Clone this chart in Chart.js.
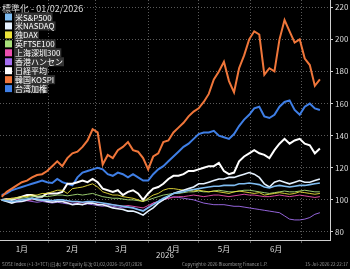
<!DOCTYPE html>
<html>
<head>
<meta charset="utf-8">
<script src="https://cdn.jsdelivr.net/npm/chart.js@4.4.1/dist/chart.umd.min.js"></script>
<style>
  html, body { margin: 0; padding: 0; background: #000; }
  #wrap { width: 350px; height: 269px; position: relative; }
</style>
</head>
<body>
<div id="wrap"><canvas id="chart"></canvas></div>
<script>
'use strict';

// day of year for each sample (2026)
const days = [4, 7, 10, 13, 16, 19, 22, 25, 28, 31, 34, 37, 40, 43, 46, 49,
  52, 55, 58, 61, 64, 67, 70, 73, 76, 79, 82, 85, 88, 91, 94, 97,
  100, 103, 106, 109, 112, 115, 118, 121, 124, 127, 130, 133, 136, 139, 142, 145,
  148, 151, 154, 157, 160, 163, 166, 169, 172, 175, 178, 181, 184, 187, 190, 193];

const monthStarts = [32, 60, 91, 121, 152, 182];
const monthMids = [16, 46, 75, 106, 136, 167];
const monthLabels = ['1月', '2月', '3月', '4月', '5月', '6月'];
const yTicks = [80, 100, 120, 140, 160, 180, 200, 220];

const seriesNames = ['米S&P500', '米NASDAQ', '独DAX', '英FTSE100', '上海深圳300', '香港ハンセン', '日経平均', '韓国KOSPI', '台湾加権'];
const seriesColors = ['#7fbcf0', '#e6f2ff', '#ece23a', '#a9e07a', '#ec4fae', '#a46ef0', '#ffffff', '#f0763a', '#3f7fe6'];

const sp500 = [100, 99.5, 99, 99.5, 100, 100.5, 101, 100.5, 100, 100, 99.5, 100, 100, 99.5, 99, 99,
  98.5, 99, 99, 98.5, 98, 97.5, 97, 96.5, 96, 95.5, 95, 94, 93, 95, 97, 99,
  101, 102.5, 104, 104.5, 105, 106, 106.5, 107, 107.5, 108, 108.5, 108.5, 109, 109, 109, 110,
  110, 110.5, 110, 109.5, 108, 107.5, 108.5, 109, 108.5, 108, 108.5, 109, 109, 109.5, 110, 110.5];
const nasdaq = [100, 99, 98, 99, 99, 100, 101, 100, 100, 99, 98.5, 99, 99, 98, 97, 97.5,
  97, 98, 98, 97, 97, 96, 95, 94.5, 94, 93, 93, 92, 90.5, 93, 95, 98,
  100, 102, 104, 105, 106, 107, 108, 110, 110, 111, 112, 113, 113, 114, 114, 115,
  116, 117, 116, 114, 110, 108, 111, 112, 111, 110, 111, 112, 111, 111, 112, 113];
const dax = [100, 100.5, 101, 101.5, 102, 102, 103, 103, 104, 104, 105, 106, 106, 104, 107, 107.5,
  108, 109, 110, 108, 105, 104, 103, 103, 102, 101.5, 101, 100, 99, 101, 103, 104,
  106, 107, 107, 106.5, 106, 106, 105.5, 106, 105.5, 105, 105.5, 105, 104.5, 104, 105, 105.5,
  105, 104.5, 104, 104.5, 103, 103.5, 104, 104.5, 104, 103.5, 104, 105, 104.5, 104, 103.5, 104];
const ftse = [100, 100, 100.5, 101, 101, 101.5, 102, 102, 102.5, 102, 102.5, 103, 103, 102.5, 103, 103.5,
  103, 103.5, 104, 103, 102, 101.5, 101, 101, 100.5, 100, 100, 99.5, 99, 100, 101, 102,
  103, 103.5, 104, 104, 104.5, 105, 105, 105.5, 105, 105, 105.5, 106, 105.5, 105, 105, 105.5,
  106, 106, 105.5, 105, 104.5, 104, 104.5, 105, 105.5, 105, 105, 105.5, 106, 105.5, 105, 105];
const csi300 = [100, 100.5, 101, 100.5, 100, 99.5, 100, 100.5, 100, 99.5, 99, 99.5, 99, 98.5, 99, 98.5,
  98, 98.5, 98, 97.5, 97, 97.5, 97, 96.5, 96, 96.5, 96, 95.5, 95, 96.5, 98, 99,
  100, 101, 101.5, 102, 102, 102.5, 103, 102.5, 102, 102.5, 103, 103, 102.5, 102, 102.5, 103,
  103.5, 103, 103, 102.5, 102, 102, 102.5, 103, 102.5, 102, 102.5, 103, 102.5, 102, 101.5, 102];
const hangseng = [100, 99.5, 99, 98.5, 99, 99.5, 99, 98.5, 99, 98.5, 98, 98.5, 98, 97.5, 98, 97.5,
  97, 97.5, 97, 96.5, 96, 96.5, 96, 95.5, 95, 95.5, 95, 94, 93.5, 95.5, 98, 99,
  100, 101, 102, 101.5, 101, 100.5, 100, 99, 98, 97.5, 97, 97, 97, 96.5, 96, 96,
  95.5, 95, 94.5, 94, 93.5, 93, 92.5, 92, 90, 88, 87.5, 87.5, 88, 89, 91, 92];
const nikkei = [100, 100.5, 100, 101, 102, 103, 103, 102, 102, 104, 104, 104, 105, 110, 110, 111,
  112, 111, 113, 111, 107, 106, 105, 106, 103, 105, 106, 104, 100, 104, 107, 108,
  110, 113, 115, 115, 116, 118, 118, 119, 120, 121, 121, 123, 118, 116, 117, 124,
  127, 129, 131, 129, 128, 126, 131, 135, 138, 135, 137, 138, 135, 134, 129, 132];
const kospi = [102, 105, 107, 109, 111, 112, 114, 115.5, 116, 118, 121, 124, 121, 126, 129, 130,
  133, 137, 144, 142, 122, 128, 126, 131, 133, 136, 131, 130, 126, 119, 127, 129,
  136, 137, 142, 145, 148, 152, 155, 157, 161, 166, 175, 180, 186, 174, 167, 182,
  190, 200, 205, 203, 178, 182, 180, 200, 212, 205, 198, 200, 188, 184, 171, 175];
const taiex = [103, 104, 106, 107, 108, 109, 110, 111, 112, 111, 110.5, 113, 111, 110, 109, 114,
  117, 118, 119, 120, 119, 116, 115, 117, 116, 114, 116, 114, 112, 112, 116, 119,
  121, 124, 127, 130, 133, 135, 138, 141, 142, 142, 143, 140, 139, 138, 141, 146,
  150, 153, 157, 158, 152, 151, 153, 158, 161, 162, 156, 153, 158, 160, 157, 156];

const seriesValues = [sp500, nasdaq, dax, ftse, csi300, hangseng, nikkei, kospi, taiex];
const seriesWidths = [1.6, 1.6, 0.9, 0.9, 0.9, 0.9, 2, 2, 2];

const font = '"Noto Sans CJK JP", "Noto Sans", sans-serif';

const datasets = seriesNames.map((name, k) => ({
  label: name,
  data: seriesValues[k].map((v, i) => ({ x: days[i], y: v })),
  borderColor: seriesColors[k],
  borderWidth: seriesWidths[k],
  pointRadius: 0,
  tension: 0,
  fill: false
}));

const overlay = {
  id: 'overlay',
  beforeDraw(chart) {
    const ctx = chart.ctx;
    ctx.save();
    ctx.fillStyle = '#000';
    ctx.fillRect(0, 0, chart.width, chart.height);
    ctx.restore();
  },
  afterDraw(chart) {
    const ctx = chart.ctx;
    ctx.save();
    ctx.textBaseline = 'middle';
    ctx.fillStyle = '#d8d8d8';
    ctx.font = '9px ' + font;
    ctx.fillText('標準化 - 01/02/2026', 2, 9);

    ctx.font = '8px ' + font;
    for (let i = 0; i < seriesNames.length; i++) {
      const y = 17 + i * 8.95;
      ctx.fillStyle = seriesColors[i];
      ctx.fillRect(5, y - 3.5, 7, 7);
      const w = ctx.measureText(seriesNames[i]).width;
      ctx.fillStyle = '#333';
      ctx.fillRect(14, y - 4.5, w + 2, 9);
      ctx.fillStyle = '#fff';
      ctx.fillText(seriesNames[i], 15, y + 0.5);
    }

    ctx.font = '4.5px ' + font;
    ctx.fillStyle = '#9a9a9a';
    ctx.fillText('SOSE Index (+1-3<TCT)(日本) SP Equity 年次 01/02/2026-15/07/2026', 2, 264);
    ctx.fillText('Copyright© 2026 Bloomberg Finance L.P.', 182, 264);
    ctx.fillText('15-Jul-2026 22:22:17', 305, 264);
    ctx.restore();
  }
};

new Chart(document.getElementById('chart'), {
  type: 'line',
  data: { datasets: datasets },
  options: {
    responsive: true,
    maintainAspectRatio: false,
    animation: false,
    layout: { padding: { left: 0, right: 0, top: 0, bottom: 9 } },
    plugins: { legend: { display: false }, tooltip: { enabled: false } },
    scales: {
      x: {
        type: 'linear',
        min: 3,
        max: 199,
        afterBuildTicks(scale) {
          scale.ticks = monthStarts.concat(monthMids).sort((a, b) => a - b).map(v => ({ value: v }));
        },
        afterFit(scale) {
          scale.height = 20;
          scale.paddingLeft = 0;
          scale.paddingRight = 0;
        },
        ticks: {
          autoSkip: false,
          maxRotation: 0,
          padding: 1,
          color: '#dcdcdc',
          font: { family: font, size: 8 },
          callback: v => {
            const idx = monthMids.indexOf(v);
            return idx >= 0 ? monthLabels[idx] : '';
          }
        },
        grid: {
          color: c => (c.tick && monthStarts.includes(c.tick.value)) ? '#5a5a5a' : 'rgba(0,0,0,0)',
          tickLength: 3,
          lineWidth: 1
        },
        border: { color: '#cfcfcf', dash: [1, 2] },
        title: {
          display: true,
          text: '2026',
          color: '#dcdcdc',
          font: { family: font, size: 8 },
          padding: { top: 0, bottom: 0 }
        }
      },
      y: {
        position: 'right',
        min: 75,
        max: 224.5,
        afterBuildTicks(scale) {
          scale.ticks = yTicks.map(v => ({ value: v }));
        },
        afterFit(scale) {
          scale.width = 20;
          scale.paddingTop = 0;
          scale.paddingBottom = 0;
        },
        ticks: {
          padding: 2,
          color: '#dcdcdc',
          font: { family: font, size: 8 }
        },
        grid: { color: '#5a5a5a', tickColor: '#cfcfcf', tickLength: 3 },
        border: { color: '#cfcfcf', dash: [1, 2] }
      }
    }
  },
  plugins: [overlay]
});
</script>
</body>
</html>
